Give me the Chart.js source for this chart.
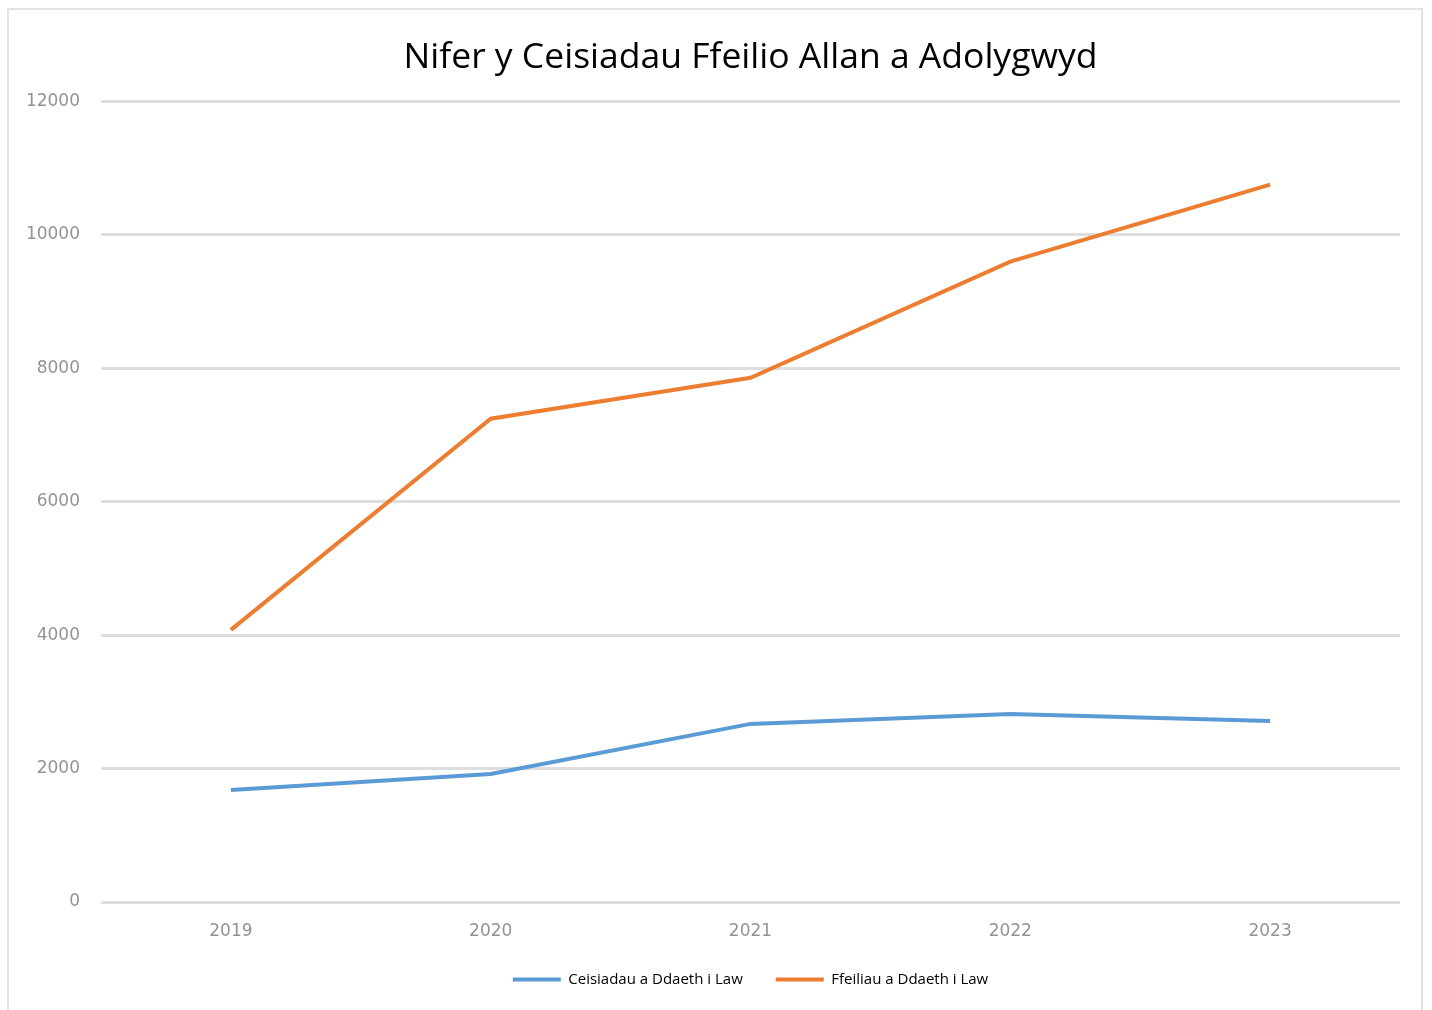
<!DOCTYPE html>
<html>
<head>
<meta charset="utf-8">
<script src="https://cdn.jsdelivr.net/npm/chart.js@4"></script>
<style>
  html, body { margin: 0; padding: 0; background: #fff; }
  #frame { position: absolute; left: 7px; top: 8px; width: 1416px; height: 1010px; border: 2px solid #e3e3e3; box-sizing: border-box; }
  #wrap { position: absolute; left: 0; top: 0; width: 1432px; height: 1010px; }
</style>
</head>
<body>
<div id="frame"></div>
<div id="wrap"><canvas id="chart"></canvas></div>
<script>
const years = ["2019", "2020", "2021", "2022", "2023"];
const requestsReceived = [1680, 1920, 2670, 2820, 2715];
const filesReceived = [4080, 7245, 7860, 9600, 10755];
const seriesNames = ["Ceisiadau a Ddaeth i Law", "Ffeiliau a Ddaeth i Law"];
const chartTitle = "Nifer y Ceisiadau Ffeilio Allan a Adolygwyd";

const ctx = document.getElementById("chart").getContext("2d");

const chart = new Chart(ctx, {
  type: "line",
  data: {
    labels: years,
    datasets: [{
      label: seriesNames[0],
      data: requestsReceived,
      borderColor: "#5b9bd5",
      backgroundColor: "#5b9bd5",
      borderWidth: 4,
      pointRadius: 0,
      tension: 0
    }, {
      label: seriesNames[1],
      data: filesReceived,
      borderColor: "#ed7d31",
      backgroundColor: "#ed7d31",
      borderWidth: 4,
      pointRadius: 0,
      tension: 0
    }]
  },
  options: {
    responsive: true,
    maintainAspectRatio: false,
    animation: false,
    layout: { padding: { left: 0, right: 32, top: 0, bottom: 13 } },
    plugins: {
      title: {
        display: true,
        fullSize: false,
        text: chartTitle,
        color: "#000",
        font: { family: "Open Sans", size: 35.5, weight: "normal" },
        padding: { top: 37, bottom: 22 }
      },
      legend: {
        display: true,
        fullSize: false,
        position: "bottom",
        labels: {
          color: "#000",
          font: { family: "Open Sans", size: 15 },
          boxWidth: 48,
          boxHeight: 4,
          padding: 33,
          generateLabels: (c) => c.data.datasets.map((ds, i) => ({
            text: ds.label,
            fillStyle: ds.borderColor,
            strokeStyle: ds.borderColor,
            lineWidth: 0,
            datasetIndex: i
          }))
        }
      },
      tooltip: { enabled: false }
    },
    scales: {
      x: {
        offset: true,
        grid: { display: false },
        border: { display: false },
        ticks: { color: "#939393", font: { family: "DejaVu Sans", size: 17 }, padding: 11 },
        afterFit: (scale) => { scale.height = 37; }
      },
      y: {
        min: 0,
        max: 12000,
        ticks: {
          stepSize: 2000,
          color: "#939393",
          font: { family: "DejaVu Sans", size: 17 },
          padding: 21,
          callback: (v) => String(v)
        },
        grid: { color: "#dedede", lineWidth: 3, drawTicks: false },
        border: { display: false },
        afterFit: (scale) => { scale.width = 101; }
      }
    }
  }
});
</script>
</body>
</html>
